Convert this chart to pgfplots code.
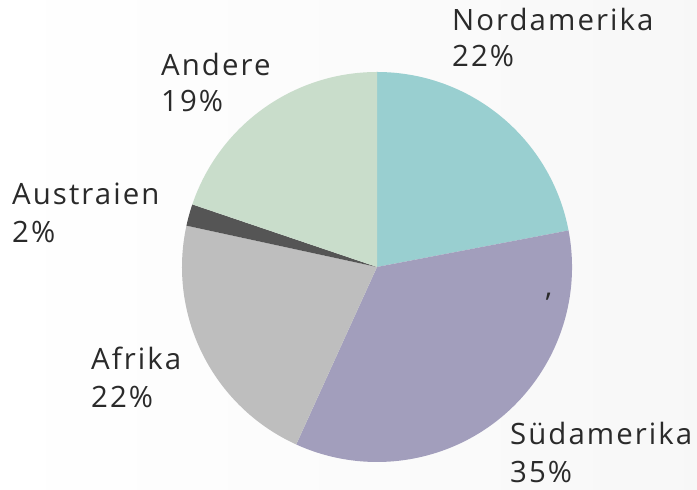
\documentclass[border=0pt]{standalone}
\usepackage{fontspec}
\setmainfont[LetterSpace=7]{Open Sans}
\usepackage{pgfplots}
\pgfplotsset{compat=1.18}
\definecolor{cN}{HTML}{99CFD0}
\definecolor{cS}{HTML}{A29EBC}
\definecolor{cAf}{HTML}{BEBEBE}
\definecolor{cAu}{HTML}{555555}
\definecolor{cAn}{HTML}{C9DDCB}
\definecolor{txt}{HTML}{2A2A2A}
\begin{document}
\begin{tikzpicture}
\begin{axis}[
  width=697bp, height=490bp, scale only axis,
  xmin=0, xmax=697, ymin=0, ymax=490,
  hide axis, clip=false,
]
\pgfplotsextra{
  \shade[left color=white, right color=black!3] (axis cs:0,0) rectangle (axis cs:697,490);
  \foreach \v/\c [remember=\e as \s (initially 90), evaluate=\v as \e using \s-3.6*\v] in {22/cN,34.8/cS,21.6/cAf,1.8/cAu,19.8/cAn} {
    \fill[\c] (axis cs:377,223) -- ++(\s:195bp) arc[start angle=\s, end angle=\e, radius=195bp] -- cycle;
  }
}
\begin{scope}[every node/.style={anchor=base west, inner sep=0pt, text=txt, font=\fontsize{29.5}{32}\selectfont}]
\node at (axis cs:452,459) {Nordamerika};
\node at (axis cs:452,423) {22\%};
\node at (axis cs:161,414) {Andere};
\node at (axis cs:161,378) {19\%};
\node at (axis cs:12,285) {Austraien};
\node at (axis cs:12,247) {2\%};
\node at (axis cs:91,120) {Afrika};
\node at (axis cs:91,82) {22\%};
\node at (axis cs:510,45) {Südamerika};
\node at (axis cs:510,7) {35\%};
\node at (axis cs:545,193) {,};
\end{scope}
\end{axis}
\end{tikzpicture}
\end{document}
